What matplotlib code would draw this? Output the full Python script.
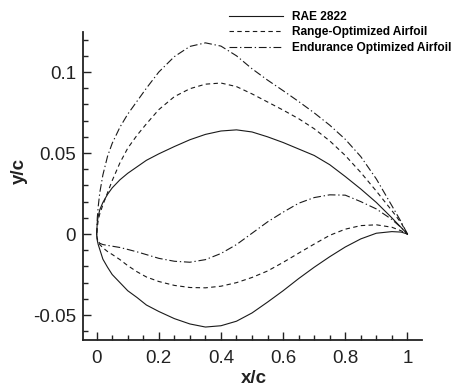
import matplotlib
matplotlib.use("Agg")
import matplotlib.pyplot as plt
from matplotlib.ticker import MultipleLocator, FuncFormatter

plt.rcParams["font.family"] = ["Liberation Sans", "DejaVu Sans"]
plt.rcParams["axes.unicode_minus"] = False

# ---------------------------------------------------------------------------
# Data: y/c of each surface at these x/c stations
# ---------------------------------------------------------------------------
x_c = [0.0, 0.002, 0.005, 0.01, 0.02, 0.035, 0.05, 0.075, 0.1, 0.13,
       0.16, 0.2, 0.25, 0.3, 0.35, 0.4, 0.45, 0.5, 0.55, 0.6,
       0.65, 0.7, 0.75, 0.8, 0.85, 0.9, 0.95, 0.98, 1.0]

rae_upper = [0.0, 0.0075, 0.0110, 0.0150, 0.0195, 0.0245, 0.0285, 0.0335, 0.0375, 0.0415,
             0.0455, 0.0495, 0.0540, 0.0582, 0.0615, 0.0636, 0.0643, 0.0630, 0.0600, 0.0565,
             0.0525, 0.0485, 0.0428, 0.0355, 0.0278, 0.0195, 0.0100, 0.0040, 0.0]
rae_lower = [0.0, -0.0040, -0.0065, -0.0095, -0.0155, -0.0205, -0.0250, -0.0300, -0.0350, -0.0392,
             -0.0438, -0.0478, -0.0522, -0.0555, -0.0574, -0.0566, -0.0538, -0.0487, -0.0420, -0.0350,
             -0.0275, -0.0205, -0.0140, -0.0080, -0.0030, 0.0005, 0.0015, 0.0012, 0.0]

rng_upper = [-0.001, 0.0040, 0.0085, 0.0125, 0.0180, 0.0255, 0.0330, 0.0440, 0.0530, 0.0610,
             0.0680, 0.0768, 0.0848, 0.0897, 0.0925, 0.0932, 0.0910, 0.0865, 0.0815, 0.0765,
             0.0712, 0.0650, 0.0575, 0.0485, 0.0380, 0.0265, 0.0145, 0.0068, 0.0]
rng_lower = [-0.001, -0.0030, -0.0050, -0.0065, -0.0085, -0.0108, -0.0126, -0.0158, -0.0195, -0.0233,
             -0.0265, -0.0293, -0.0317, -0.0330, -0.0332, -0.0322, -0.0300, -0.0268, -0.0228, -0.0175,
             -0.0118, -0.0062, -0.0008, 0.0030, 0.0052, 0.0057, 0.0042, 0.0020, 0.0]

end_upper = [-0.001, 0.0100, 0.0170, 0.0255, 0.0365, 0.0480, 0.0560, 0.0660, 0.0740, 0.0820,
             0.0900, 0.1000, 0.1095, 0.1158, 0.1180, 0.1160, 0.1100, 0.1020, 0.0950, 0.0885,
             0.0818, 0.0748, 0.0672, 0.0585, 0.0478, 0.0340, 0.0175, 0.0075, 0.0]
end_lower = [-0.001, -0.0030, -0.0045, -0.0057, -0.0065, -0.0070, -0.0075, -0.0083, -0.0095, -0.0110,
             -0.0127, -0.0150, -0.0168, -0.0174, -0.0158, -0.0120, -0.0065, 0.0005, 0.0075, 0.0135,
             0.0190, 0.0225, 0.0242, 0.0240, 0.0200, 0.0155, 0.0090, 0.0040, 0.0]

labels = ["RAE 2822", "Range-Optimized Airfoil", "Endurance Optimized Airfoil"]

# ---------------------------------------------------------------------------
fig = plt.figure(figsize=(4.53, 3.86), dpi=100)
ax = fig.add_axes([83 / 453, 1 - 340 / 386, 339 / 453, 308 / 386])

ink = "#1a1a1a"
lw = 0.8

def closed(upper, lower):
    # trailing edge -> upper -> leading edge -> lower -> trailing edge
    return x_c[::-1] + x_c[1:], upper[::-1] + lower[1:]

x, y = closed(rae_upper, rae_lower)
ax.plot(x, y, color=ink, lw=lw, ls="-", label=labels[0])
x, y = closed(rng_upper, rng_lower)
ax.plot(x, y, color=ink, lw=lw, ls=(0, (4, 3)), label=labels[1])
x, y = closed(end_upper, end_lower)
ax.plot(x, y, color=ink, lw=lw, ls=(0, (7, 2.5, 1.2, 2.5)), label=labels[2])

ax.set_xlim(-0.044, 1.047)
ax.set_ylim(-0.0654, 0.1247)

for side in ("top", "right"):
    ax.spines[side].set_visible(False)
for side in ("left", "bottom"):
    ax.spines[side].set_linewidth(1.3)
    ax.spines[side].set_color("#222222")

ax.xaxis.set_major_locator(MultipleLocator(0.2))
ax.xaxis.set_minor_locator(MultipleLocator(0.05))
ax.yaxis.set_major_locator(MultipleLocator(0.05))
ax.yaxis.set_minor_locator(MultipleLocator(0.01))
fmt = FuncFormatter(lambda v, p: f"{v:g}" if abs(v) > 1e-9 else "0")
ax.xaxis.set_major_formatter(fmt)
ax.yaxis.set_major_formatter(fmt)

ax.tick_params(which="both", direction="in", width=1.0, colors="#222222",
               labelsize=13.5, labelcolor="#222222")
ax.tick_params(which="major", length=5.5)
ax.tick_params(which="minor", length=3.5)
ax.tick_params(axis="x", pad=7)
ax.tick_params(axis="y", pad=5)

ax.set_xlabel("x/c", fontsize=13.5, fontweight="bold", color="#222222")
ax.set_ylabel("y/c", fontsize=13.5, fontweight="bold", color="#222222")
ax.xaxis.set_label_coords(0.504, -0.126)
ax.yaxis.set_label_coords(-0.187, 0.549)
ax.xaxis.label.set_va("center")
ax.yaxis.label.set_va("center")

fig.legend(loc="upper left", bbox_to_anchor=(229 / 453, 1 - 11 / 386),
           frameon=False, borderpad=0, borderaxespad=0,
           handlelength=4.5, handletextpad=0.75, labelspacing=0.28,
           prop={"size": 8.6, "weight": "bold"})

fig.savefig("out.png", dpi=100)
